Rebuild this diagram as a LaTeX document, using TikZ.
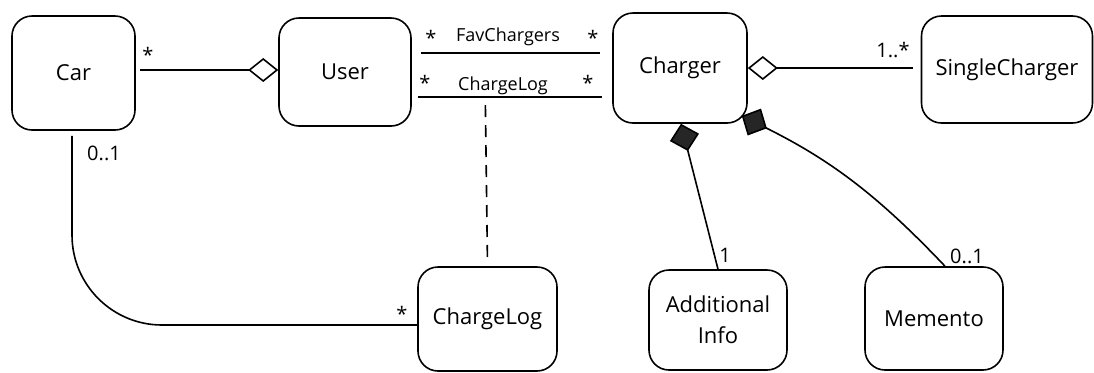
\documentclass[tikz,border=0pt]{standalone}
\usepackage{fontspec}
\setmainfont{Open Sans}
\usetikzlibrary{arrows.meta}

\begin{document}
\begin{tikzpicture}[x=0.5pt,y=-0.5pt,
        cls/.style={draw,thick,rounded corners=10pt,align=center,font=\fontsize{11}{15.5}\selectfont},
        lbl/.style={font=\fontsize{10}{11}\selectfont,inner sep=0pt},
        small/.style={font=\fontsize{9}{10}\selectfont,inner sep=0pt},
        agg/.style={thick,-{Diamond[open,length=15pt,width=12pt]}},
        comp/.style={thick,-{Diamond[fill=black!85,length=14pt,width=15pt]}}]
        \useasboundingbox (0,0) rectangle (1094,372);
        \node[cls,minimum width=61.5pt,minimum height=57pt] (car) at (73.5,73) {Car};
        \node[cls,minimum width=66pt,minimum height=54pt] (user) at (345,72) {User};
        \node[cls,minimum width=67pt,minimum height=55pt] (charger) at (680,68) {Charger};
        \node[cls,minimum width=85.5pt,minimum height=53.5pt] (single) at (1007,69.5) {SingleCharger};
        \node[cls,minimum width=69.5pt,minimum height=52pt] (chargelog) at (487.5,319) {ChargeLog};
        \node[cls,minimum width=69pt,minimum height=50pt] (addinfo) at (718,320) {Additional\\Info};
        \node[cls,minimum width=69pt,minimum height=51.5pt] (memento) at (934,318.5) {Memento};
        \draw[agg,shorten <=2pt] ([yshift=1.5pt]car.east) -- ([yshift=1.5pt]car.east -| user.west);
        \draw[thick] ([xshift=4.5pt,yshift=9.5pt]user.east) -- ([xshift=-6pt,yshift=9.5pt]user.east -| charger.west);
        \draw[thick] ([xshift=3pt,yshift=-12.5pt]user.east) -- coordinate[pos=0.366] (logref) ([xshift=-5pt,yshift=-12.5pt]user.east -| charger.west);
        \draw[thick,dash pattern=on 6pt off 4pt,shorten <=4pt,shorten >=4.5pt] (logref) -- (chargelog.north);
        \draw[agg,shorten <=4pt] (charger.east -| single.west) -- (charger.east);
        \draw[comp] (addinfo.north) -- ([xshift=0.5pt]charger.south);
        \draw[comp] ([xshift=5.5pt]memento.north) to[bend right=10] ([xshift=-3pt,yshift=4pt]charger.south east);
        \draw[thick,rounded corners=45pt,shorten <=2.5pt] ([xshift=-0.75pt]car.south) |- ([yshift=-3pt]chargelog.west);
        \node[lbl] (m1) at (148,55) {*};
        \node[lbl] (m2) at (431,38) {*};
        \node[lbl] (m3) at (593,38) {*};
        \node[small] (fav) at (508,37) {FavChargers};
        \node[lbl] (m4) at (425,83) {*};
        \node[lbl] (m5) at (588,83) {*};
        \node[small] (log) at (503,86) {ChargeLog};
        \node[lbl] (m6) at (893,50) {1..*};
        \node[lbl] (m7) at (725,255) {1};
        \node[lbl] (m8) at (967,256) {0..1};
        \node[lbl] (m9) at (104,153) {0..1};
        \node[lbl] (m10) at (402,314) {*};
    \end{tikzpicture}
\end{document}
